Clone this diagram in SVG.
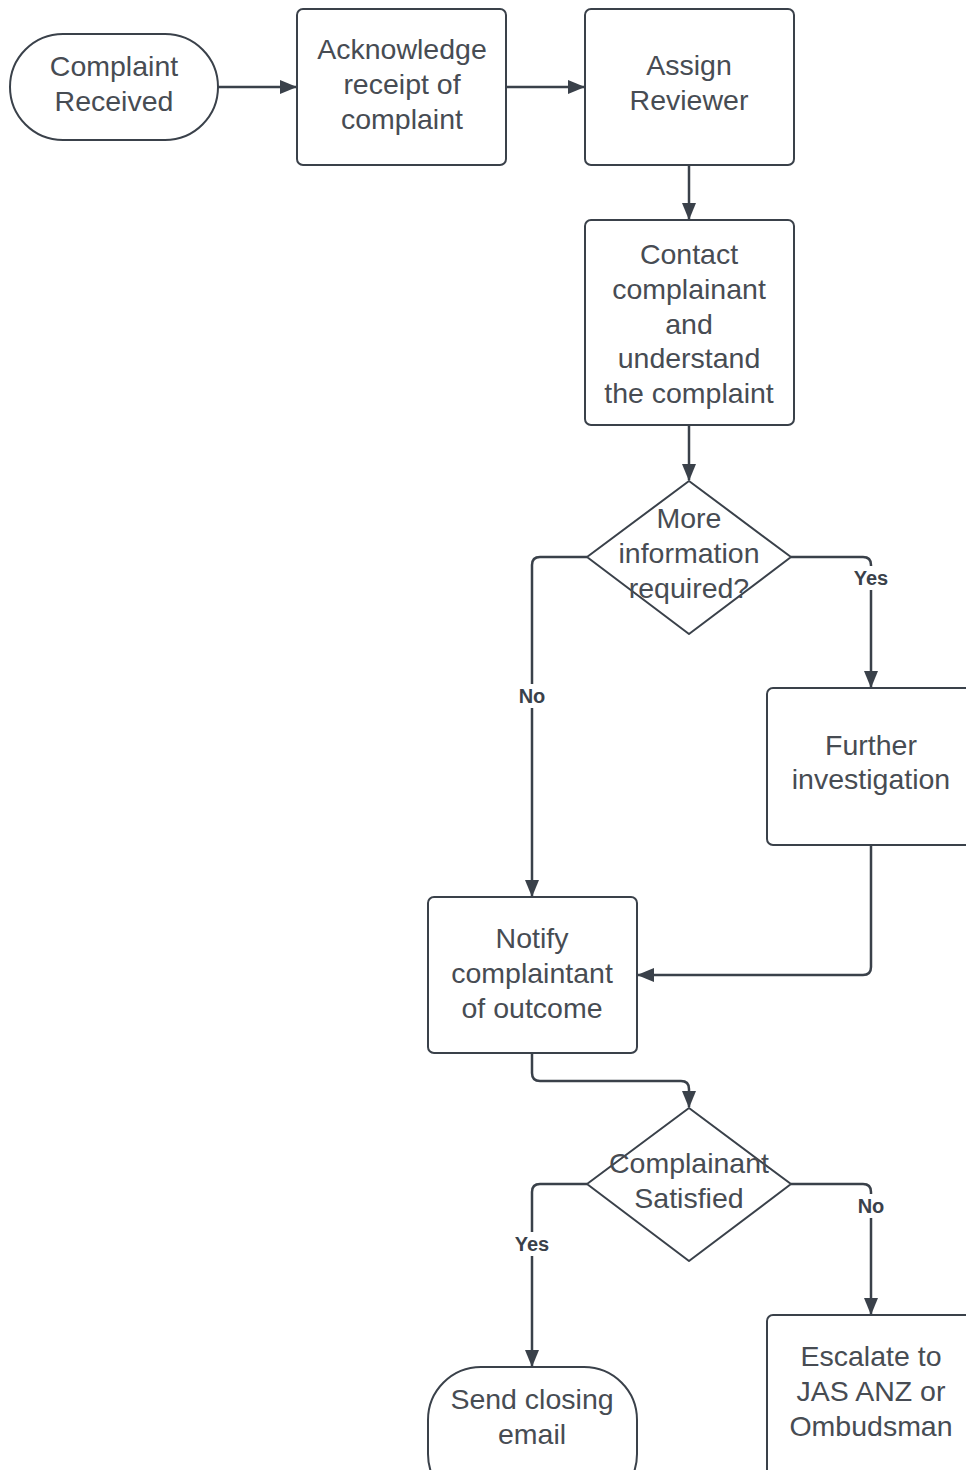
<svg xmlns="http://www.w3.org/2000/svg" width="966" height="1470" viewBox="0 0 966 1470">
<style>
.n{fill:#ffffff;stroke:#3a414a;stroke-width:2}
.t{font-family:"Liberation Sans",Arial,sans-serif;font-size:28.5px;fill:#474c53;text-anchor:middle}
.c{fill:none;stroke:#3a414a;stroke-width:2.5}
.l{font-family:"Liberation Sans",Arial,sans-serif;font-size:20px;font-weight:bold;fill:#3a414a;text-anchor:middle}
.lb{fill:#ffffff}
</style>
<defs>
<marker id="a" markerWidth="17" markerHeight="14" refX="16" refY="7" orient="auto" markerUnits="userSpaceOnUse">
<path d="M0,0 L17,7 L0,14 Z" fill="#3a414a"/>
</marker>
</defs>
<rect width="966" height="1470" fill="#ffffff"/>
<g id="connectors">
<path class="c" d="M218,87 H296" marker-end="url(#a)"/>
<path class="c" d="M506,87 H584" marker-end="url(#a)"/>
<path class="c" d="M689,165 V219" marker-end="url(#a)"/>
<path class="c" d="M689,425 V480" marker-end="url(#a)"/>
<path class="c" d="M587,557 H540 Q532,557 532,565 V896" marker-end="url(#a)"/>
<path class="c" d="M791,557 H863 Q871,557 871,565 V687" marker-end="url(#a)"/>
<path class="c" d="M871,845 V967 Q871,975 863,975 H638" marker-end="url(#a)"/>
<path class="c" d="M532,1053 V1073 Q532,1081 540,1081 H681 Q689,1081 689,1089 V1107" marker-end="url(#a)"/>
<path class="c" d="M587,1184 H540 Q532,1184 532,1192 V1366" marker-end="url(#a)"/>
<path class="c" d="M791,1184 H863 Q871,1184 871,1192 V1314" marker-end="url(#a)"/>
<rect class="lb" x="514" y="684" width="36" height="24"/>
<text class="l" x="532" y="703">No</text>
<rect class="lb" x="850" y="566" width="42" height="24"/>
<text class="l" x="871" y="585">Yes</text>
<rect class="lb" x="511" y="1232" width="42" height="24"/>
<text class="l" x="532" y="1251">Yes</text>
<rect class="lb" x="853" y="1194" width="36" height="24"/>
<text class="l" x="871" y="1213">No</text>
</g>
<g id="complaint-received">
<rect class="n" x="10" y="34" width="208" height="106" rx="53" ry="53"/>
<text class="t" x="114" y="76">Complaint</text>
<text class="t" x="114" y="111">Received</text>
</g>
<g id="acknowledge">
<rect class="n" x="297" y="9" width="209" height="156" rx="6"/>
<text class="t" x="402" y="59">Acknowledge</text>
<text class="t" x="402" y="94">receipt of</text>
<text class="t" x="402" y="129">complaint</text>
</g>
<g id="assign-reviewer">
<rect class="n" x="585" y="9" width="209" height="156" rx="6"/>
<text class="t" x="689" y="75">Assign</text>
<text class="t" x="689" y="110">Reviewer</text>
</g>
<g id="contact">
<rect class="n" x="585" y="220" width="209" height="205" rx="6"/>
<text class="t" x="689" y="264">Contact</text>
<text class="t" x="689" y="299">complainant</text>
<text class="t" x="689" y="334">and</text>
<text class="t" x="689" y="368">understand</text>
<text class="t" x="689" y="403">the complaint</text>
</g>
<g id="more-info">
<path class="n" d="M689,481 L791,557 L689,634 L587,557 Z" stroke-linejoin="round"/>
<text class="t" x="689" y="528">More</text>
<text class="t" x="689" y="563">information</text>
<text class="t" x="689" y="598">required?</text>
</g>
<g id="further-investigation">
<rect class="n" x="767" y="688" width="209" height="157" rx="6"/>
<text class="t" x="871" y="755">Further</text>
<text class="t" x="871" y="789">investigation</text>
</g>
<g id="notify">
<rect class="n" x="428" y="897" width="209" height="156" rx="6"/>
<text class="t" x="532" y="948">Notify</text>
<text class="t" x="532" y="983">complaintant</text>
<text class="t" x="532" y="1018">of outcome</text>
</g>
<g id="satisfied">
<path class="n" d="M689,1108 L791,1184 L689,1261 L587,1184 Z" stroke-linejoin="round"/>
<text class="t" x="689" y="1173">Complainant</text>
<text class="t" x="689" y="1208">Satisfied</text>
</g>
<g id="send-closing-email">
<rect class="n" x="428" y="1367" width="209" height="140" rx="53" ry="53"/>
<text class="t" x="532" y="1409">Send closing</text>
<text class="t" x="532" y="1444">email</text>
</g>
<g id="escalate">
<rect class="n" x="767" y="1315" width="209" height="200" rx="6"/>
<text class="t" x="871" y="1366">Escalate to</text>
<text class="t" x="871" y="1401">JAS ANZ or</text>
<text class="t" x="871" y="1436">Ombudsman</text>
</g>
</svg>
